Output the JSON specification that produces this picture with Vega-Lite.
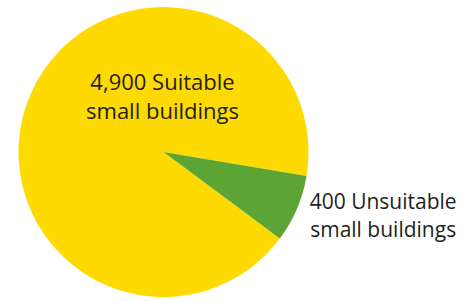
{
  "$schema": "https://vega.github.io/schema/vega-lite/v6.json",
  "autosize": {"type": "none"},
  "width": 327,
  "height": 300,
  "padding": {"left": 0, "top": 2, "right": 147, "bottom": 0},
  "background": "white",
  "config": {"view": {"stroke": null}},
  "data": {
    "values": [
      {"category": "Suitable", "count": 4900, "label": ["4,900 Suitable", "small buildings"]},
      {"category": "Unsuitable", "count": 400, "label": ["400 Unsuitable", "small buildings"]}
    ]
  },
  "encoding": {
    "theta": {"field": "count", "type": "quantitative", "stack": true, "scale": {"range": [2.211, 8.494]}},
    "order": {"field": "category", "type": "nominal", "sort": "ascending"}
  },
  "layer": [
    {
      "mark": {"type": "arc", "outerRadius": 145},
      "encoding": {
        "color": {"field": "category", "type": "nominal", "legend": null,
          "scale": {"domain": ["Suitable", "Unsuitable"], "range": ["#FFDA00", "#5CA535"]}}
      }
    },
    {
      "mark": {"type": "text", "radius": 0, "dx": -1, "dy": -69, "font": "Open Sans", "fontSize": 22, "lineHeight": 29, "align": "center", "baseline": "middle", "color": "#231F20"},
      "encoding": {"text": {"condition": {"test": "datum.category === 'Suitable'", "field": "label"}, "value": ""}}
    },
    {
      "mark": {"type": "text", "radius": 229, "dx": 9, "dy": -39, "font": "Open Sans", "fontSize": 21, "lineHeight": 28, "align": "center", "baseline": "middle", "color": "#231F20"},
      "encoding": {"text": {"condition": {"test": "datum.category === 'Unsuitable'", "field": "label"}, "value": ""}}
    }
  ]
}
